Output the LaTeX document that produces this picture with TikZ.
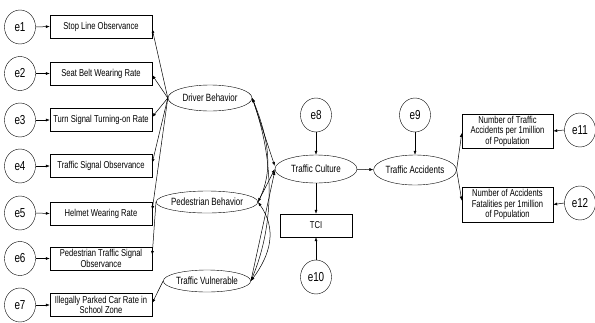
\documentclass[tikz,border=0pt]{standalone}
\usepackage{fontspec}
\setmainfont{Liberation Sans}[FakeStretch=0.76]
\usetikzlibrary{arrows.meta,shapes.geometric,calc}
\begin{document}
\begin{tikzpicture}[x=1pt,y=-1pt,
 err/.style={draw,ellipse,minimum width=31pt,minimum height=34pt,inner sep=0pt,font=\fontsize{13}{13}\selectfont},
 obs/.style={draw,rectangle,minimum width=102pt,minimum height=23pt,inner sep=1pt,align=center,font=\fontsize{10}{10.5}\selectfont},
 lat/.style={draw,ellipse,minimum width=84pt,minimum height=26pt,inner sep=0pt,font=\fontsize{10.5}{11}\selectfont},
 arr/.style={-{Latex[length=4pt,width=3pt]},line width=0.5pt},
 darr/.style={{Latex[length=4pt,width=3pt]}-{Latex[length=4pt,width=3pt]},line width=0.5pt}]
\useasboundingbox (0,0) rectangle (595,322);
% error terms left
\node[err] (e1) at (20,27) {e1};
\node[err] (e2) at (20,73.5) {e2};
\node[err] (e3) at (20,120) {e3};
\node[err] (e4) at (20,166) {e4};
\node[err] (e5) at (20,213) {e5};
\node[err] (e6) at (20,258.5) {e6};
\node[err] (e7) at (20,305) {e7};
% observed boxes left
\node[obs] (b1) at (101,26.5) {Stop Line Observance};
\node[obs] (b2) at (101,73.5) {Seat Belt Wearing Rate};
\node[obs] (b3) at (101,120) {Turn Signal Turning-on Rate};
\node[obs] (b4) at (101,166) {Traffic Signal Observance};
\node[obs] (b5) at (101,213.5) {Helmet Wearing Rate};
\node[obs] (b6) at (101,258.5) {Pedestrian Traffic Signal\\Observance};
\node[obs] (b7) at (101,305) {Illegally Parked Car Rate in\\School Zone};
% latent
\node[lat] (dr) at (210,98) {Driver Behavior};
\node[lat,minimum width=85pt,minimum height=22pt] (pb) at (207,202) {Pedestrian Behavior};
\node[lat,minimum width=83pt,minimum height=22pt] (tv) at (207,281) {Traffic Vulnerable};
\node[lat,minimum width=82pt,minimum height=28pt] (tc) at (316,169) {Traffic Culture};
\node[lat,minimum width=80pt,minimum height=30pt] (ta) at (415,170) {Traffic Accidents};
\node[obs,minimum width=72pt] (tci) at (316,225.5) {TCI};
\node[obs,minimum width=91pt,minimum height=34pt] (r1) at (507.5,131) {Number of Traffic\\Accidents per 1million\\of Population};
\node[obs,minimum width=91pt,minimum height=35pt] (r2) at (507.5,204.5) {Number of Accidents\\Fatalities per 1million\\of Population};
\node[err] (e8) at (316,115) {e8};
\node[err] (e9) at (415,115) {e9};
\node[err] (e10) at (316,277) {e10};
\node[err] (e11) at (580,130) {e11};
\node[err] (e12) at (580,203) {e12};
% error arrows
\foreach \i in {1,...,7}{\draw[arr] (e\i.east) -- (b\i.west);}
% loadings
\draw[arr] (dr.west) -- ($(b1.east)+(0,2.5)$);
\draw[arr] (dr.west) -- ($(b2.east)+(0,1.5)$);
\draw[arr] (dr.west) -- ($(b3.east)+(0,-3)$);
\draw[arr] (dr.west) -- ($(b4.east)+(0,-3)$);
\draw[arr] (dr.west) -- ($(b5.east)+(0,-3.5)$);
\draw[arr] (pb.west) -- ($(b6.east)+(0,-3.5)$);
\draw[arr] (tv.west) -- ($(b7.east)+(0,-2)$);
% covariances
\draw[darr] (dr.east) .. controls ($(dr.east)+(14,35)$) and ($(pb.east)+(17,-35)$) .. (pb.east);
\draw[darr] (dr.east) .. controls ($(dr.east)+(21,60)$) and ($(tv.east)+(25,-60)$) .. (tv.east);
\draw[darr] (pb.east) .. controls ($(pb.east)+(19,27)$) and ($(tv.east)+(20,-27)$) .. (tv.east);
% paths to traffic culture
\draw[arr] (dr.east) -- ($(tc.west)+(0,-3)$);
\draw[arr] (pb.east) -- (tc.west);
\draw[arr] (tv.east) -- ($(tc.west)+(0,2)$);
\draw[arr] (e8) -- (tc);
\draw[arr] (tc) -- (tci);
\draw[arr] (e10) -- (tci);
\draw[arr] (tc) -- (ta);
\draw[arr] (e9) -- (ta);
\draw[arr] (ta.east) -- ($(r1.west)+(0,2)$);
\draw[arr] (ta.east) -- ($(r2.west)+(0,-4)$);
\draw[arr] (e11.west) -- (r1.east);
\draw[arr] (e12.west) -- (r2.east);
\end{tikzpicture}
\end{document}
